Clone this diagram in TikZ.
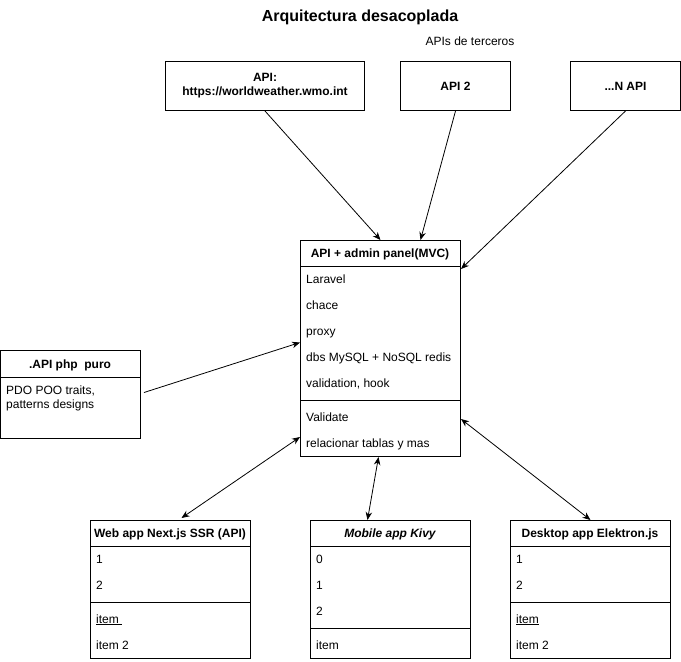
\documentclass[tikz,border=0pt]{standalone}
\usepackage{fontspec}
\setmainfont{Liberation Sans}
\usetikzlibrary{arrows.meta}

\tikzset{
  box/.style={draw, line width=1pt, inner sep=0pt, anchor=north west},
  row/.style={anchor=base west, inner sep=0pt},
  head/.style={anchor=base, inner sep=0pt, font=\fontsize{12}{14}\selectfont\bfseries},
  link/.style={line width=0.8pt, -{Stealth[length=8pt,width=6.5pt]}},
  twoway/.style={line width=0.8pt, {Stealth[length=8pt,width=6.5pt]}-{Stealth[length=8pt,width=6.5pt]}},
}

\begin{document}
\begin{tikzpicture}[x=1pt, y=-1pt, font=\fontsize{12}{14}\selectfont]
    \useasboundingbox (0,0) rectangle (681,662);

    % title
    \node[anchor=base, inner sep=0pt, font=\fontsize{16}{19}\selectfont\bfseries] (title) at (360,21) {Arquitectura desacoplada};
    \node[anchor=base, inner sep=0pt] (terceros) at (470,45) {APIs de terceros};

    % APIs de terceros
    \node[box, minimum width=199pt, minimum height=49pt, align=center, font=\fontsize{12}{14}\selectfont\bfseries] (wmo) at (165,61) {API:\\https://worldweather.wmo.int};
    \node[box, minimum width=110pt, minimum height=49pt, font=\fontsize{12}{14}\selectfont\bfseries] (api2) at (400,61) {API 2};
    \node[box, minimum width=110pt, minimum height=49pt, font=\fontsize{12}{14}\selectfont\bfseries] (napi) at (570,61) {...N API};

    % API + admin panel
    \node[box, minimum width=160pt, minimum height=216pt] (core) at (300,240) {};
    \draw[line width=1pt] ([yshift=-26pt]core.north west) -- ([yshift=-26pt]core.north east);
    \draw[line width=1pt] ([yshift=-160pt]core.north west) -- ([yshift=-160pt]core.north east);
    \node[head] (core-title) at (380,257) {API + admin panel(MVC)};
    \node[row] (core-1) at (306,283) {Laravel};
    \node[row] (core-2) at (306,309) {chace};
    \node[row] (core-3) at (306,335) {proxy};
    \node[row] (core-4) at (306,361) {dbs MySQL + NoSQL redis};
    \node[row] (core-5) at (306,387) {validation, hook};
    \node[row] (core-6) at (306,421) {Validate};
    \node[row] (core-7) at (306,447) {relacionar tablas y mas};

    % php puro
    \node[box, minimum width=140pt, minimum height=88pt] (php) at (0,350) {};
    \draw[line width=1pt] ([yshift=-27pt]php.north west) -- ([yshift=-27pt]php.north east);
    \node[head] (php-title) at (70,368) {.API php\ \ puro};
    \node[row, align=left] (php-1) at (6,408) {PDO POO traits,\\patterns designs};

    % web app
    \node[box, minimum width=160pt, minimum height=138pt] (web) at (90,520) {};
    \draw[line width=1pt] ([yshift=-26pt]web.north west) -- ([yshift=-26pt]web.north east);
    \draw[line width=1pt] ([yshift=-82pt]web.north west) -- ([yshift=-82pt]web.north east);
    \node[head] (web-title) at (170,537) {Web app Next.js SSR (API)};
    \node[row] (web-1) at (96,563) {1};
    \node[row] (web-2) at (96,589) {2};
    \node[row] (web-3) at (96,623) {\underline{item\ }};
    \node[row] (web-4) at (96,649) {item 2};

    % mobile app
    \node[box, minimum width=160pt, minimum height=138pt] (mobile) at (310,520) {};
    \draw[line width=1pt] ([yshift=-26pt]mobile.north west) -- ([yshift=-26pt]mobile.north east);
    \draw[line width=1pt] ([yshift=-108pt]mobile.north west) -- ([yshift=-108pt]mobile.north east);
    \node[head, font=\fontsize{12}{14}\selectfont\bfseries\itshape] (mobile-title) at (390,537) {Mobile app Kivy};
    \node[row] (mobile-1) at (316,563) {0};
    \node[row] (mobile-2) at (316,589) {1};
    \node[row] (mobile-3) at (316,615) {2};
    \node[row] (mobile-4) at (316,649) {item};

    % desktop app
    \node[box, minimum width=160pt, minimum height=138pt] (desk) at (510,520) {};
    \draw[line width=1pt] ([yshift=-26pt]desk.north west) -- ([yshift=-26pt]desk.north east);
    \draw[line width=1pt] ([yshift=-82pt]desk.north west) -- ([yshift=-82pt]desk.north east);
    \node[head] (desk-title) at (590,537) {Desktop app Elektron.js};
    \node[row] (desk-1) at (516,563) {1};
    \node[row] (desk-2) at (516,589) {2};
    \node[row] (desk-3) at (516,623) {\underline{item}};
    \node[row] (desk-4) at (516,649) {item 2};

    % connectors
    \draw[link] (wmo.south) -- (core.north);
    \draw[link] (api2.south) -- ([xshift=40pt]core.north);
    \draw[link] (napi.south) -- ([yshift=-29pt]core.north east);
    \draw[link] ([xshift=3pt,yshift=2pt]php.east) -- ([yshift=6pt]core.west);
    \draw[twoway] ([xshift=11pt,yshift=2pt]web.north) -- ([yshift=20pt]core.south west);
    \draw[twoway] ([xshift=-23pt]mobile.north) -- ([xshift=-2pt]core.south);
    \draw[twoway] (desk.north) -- ([yshift=38pt]core.south east);
\end{tikzpicture}
\end{document}
